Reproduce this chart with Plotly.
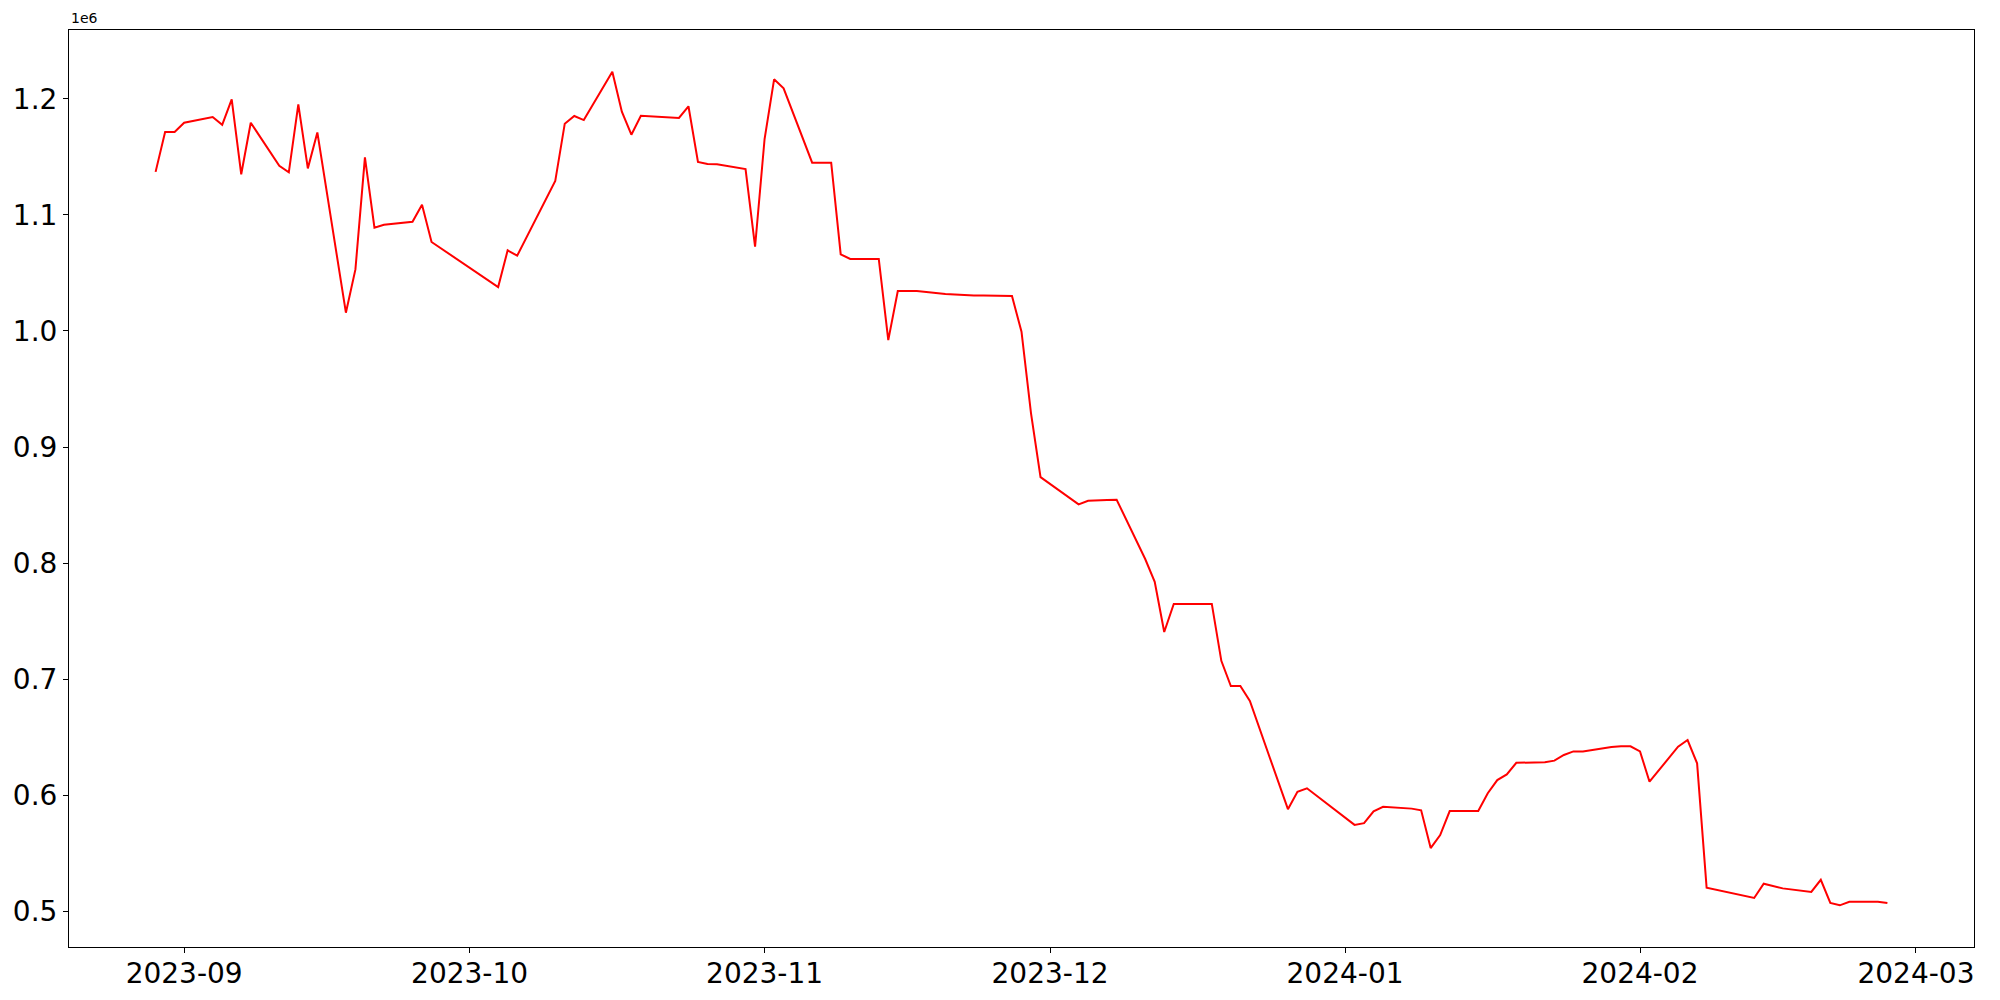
import pandas as pd
import plotly.graph_objects as go


dates = [
    "2023-08-29", "2023-08-30", "2023-08-31", "2023-09-01", "2023-09-04",
    "2023-09-05", "2023-09-06", "2023-09-07", "2023-09-08", "2023-09-11",
    "2023-09-12", "2023-09-13", "2023-09-14", "2023-09-15", "2023-09-18",
    "2023-09-19", "2023-09-20", "2023-09-21", "2023-09-22", "2023-09-25",
    "2023-09-26", "2023-09-27", "2023-10-04", "2023-10-05", "2023-10-06",
    "2023-10-10", "2023-10-11", "2023-10-12", "2023-10-13", "2023-10-16",
    "2023-10-17", "2023-10-18", "2023-10-19", "2023-10-20", "2023-10-23",
    "2023-10-24", "2023-10-25", "2023-10-26", "2023-10-27", "2023-10-30",
    "2023-10-31", "2023-11-01", "2023-11-02", "2023-11-03", "2023-11-06",
    "2023-11-07", "2023-11-08", "2023-11-09", "2023-11-10", "2023-11-13",
    "2023-11-14", "2023-11-15", "2023-11-16", "2023-11-17", "2023-11-20",
    "2023-11-21", "2023-11-22", "2023-11-23", "2023-11-24", "2023-11-27",
    "2023-11-28", "2023-11-29", "2023-11-30", "2023-12-01", "2023-12-04",
    "2023-12-05", "2023-12-06", "2023-12-07", "2023-12-08", "2023-12-11",
    "2023-12-12", "2023-12-13", "2023-12-14", "2023-12-15", "2023-12-18",
    "2023-12-19", "2023-12-20", "2023-12-21", "2023-12-22", "2023-12-26",
    "2023-12-27", "2023-12-28", "2024-01-02", "2024-01-03", "2024-01-04",
    "2024-01-05", "2024-01-08", "2024-01-09", "2024-01-10", "2024-01-11",
    "2024-01-12", "2024-01-15", "2024-01-16", "2024-01-17", "2024-01-18",
    "2024-01-19", "2024-01-22", "2024-01-23", "2024-01-24", "2024-01-25",
    "2024-01-26", "2024-01-29", "2024-01-30", "2024-01-31", "2024-02-01",
    "2024-02-02", "2024-02-05", "2024-02-06", "2024-02-07", "2024-02-08",
    "2024-02-13", "2024-02-14", "2024-02-15", "2024-02-16", "2024-02-19",
    "2024-02-20", "2024-02-21", "2024-02-22", "2024-02-23", "2024-02-26",
    "2024-02-27",
]

values = [
    1137000, 1171300, 1171300, 1179300, 1184200,
    1177600, 1199500, 1134900, 1179300, 1142300,
    1136600, 1195200, 1140000, 1171000, 1015700,
    1053000, 1149500, 1088900, 1091500, 1094000,
    1108700, 1076600, 1037800, 1069400, 1064800,
    1129100, 1178500, 1185100, 1181600, 1223300,
    1188800, 1169000, 1185400, 1184800, 1183400,
    1193500, 1145500, 1143700, 1143500, 1139400,
    1072500, 1165300, 1216700, 1209000, 1144900,
    1144900, 1144900, 1066000, 1062000, 1062000,
    992100, 1034300, 1034300, 1034300, 1031800,
    1031200, 1030900, 1030600, 1030400, 1030000,
    999300, 929000, 874100, 868100, 850600,
    853700, 853700, 854300, 854600, 803500,
    783900, 740600, 764800, 764800, 764800,
    715800, 694100, 694100, 681200, 588000,
    603000, 606000, 574500, 576000, 586200,
    590000, 588500, 587000, 554500, 565700,
    586400, 586400, 601700, 613100, 618000,
    628000, 628400, 629800, 634700, 637800,
    637800, 641500, 642200, 642200, 637800,
    611700, 641800, 647600, 627500, 520400,
    511500, 523800, 521800, 519800, 516700,
    527200, 507200, 505200, 508300, 508300,
    507200,
]

df = pd.DataFrame({"Date": pd.to_datetime(dates), "Value": values})
df["ValueM"] = df["Value"] / 1e6

# matplotlib-style 5% margins around the data
span = df["Date"].max() - df["Date"].min()
x_range = [df["Date"].min() - span * 0.05, df["Date"].max() + span * 0.05]
y_span = df["ValueM"].max() - df["ValueM"].min()
y_range = [df["ValueM"].min() - y_span * 0.05, df["ValueM"].max() + y_span * 0.05]

fig = go.Figure()

fig.add_scatter(
    x=df["Date"],
    y=df["ValueM"],
    mode="lines",
    line=dict(color="red", width=2),
    showlegend=False,
)

axis_style = dict(
    showline=True,
    mirror=True,
    linecolor="black",
    linewidth=1,
    ticks="outside",
    ticklen=5,
    tickwidth=1,
    tickcolor="black",
    showgrid=False,
    zeroline=False,
    automargin=False,
    tickfont=dict(size=28, color="black"),
)

fig.update_xaxes(
    type="date",
    range=x_range,
    tick0="2023-09-01",
    dtick="M1",
    tickformat="%Y-%m",
    ticklabelstandoff=-4,
    **axis_style,
)

fig.update_yaxes(
    range=y_range,
    tick0=0.5,
    dtick=0.1,
    tickformat=".1f",
    **axis_style,
)

fig.add_annotation(
    text="1e6",
    xref="paper",
    yref="paper",
    x=0,
    y=1,
    xanchor="left",
    yanchor="bottom",
    yshift=2,
    showarrow=False,
    font=dict(size=14, color="black"),
)

# page body adds an 8px offset, so the figure is a bit smaller than the window
fig.update_layout(
    width=1984,
    height=984,
    margin=dict(l=61, r=18, t=22, b=45),
    paper_bgcolor="white",
    plot_bgcolor="white",
    font=dict(family="DejaVu Sans", color="black"),
)

fig.write_html("out.html")
